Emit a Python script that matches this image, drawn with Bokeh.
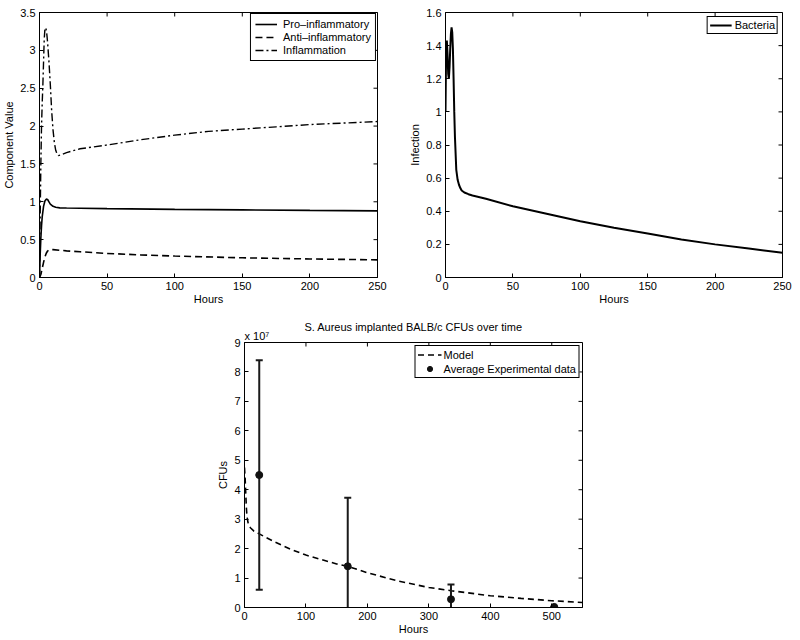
import math
from bokeh.plotting import figure
from bokeh.layouts import column, row
from bokeh.models import (FixedTicker, Range1d, Legend, LegendItem, Title,
                          Spacer, CustomJSTickFormatter)
from bokeh.embed import file_html
from bokeh.resources import INLINE

FONT = "Liberation Sans"

# ---------------- data ----------------
pro_t = [0, 0.5, 1, 1.5, 2, 3, 4, 5, 6, 7, 8, 10, 12, 15, 20, 30, 50, 100, 150, 200, 250]
pro_v = [0, 0.3, 0.52, 0.68, 0.8, 0.94, 1.01, 1.035, 1.03, 1.0, 0.97, 0.94, 0.927, 0.92,
         0.918, 0.915, 0.91, 0.90, 0.893, 0.886, 0.88]

anti_t = [0, 1, 2, 3, 4, 5, 6, 7, 8, 10, 15, 20, 30, 50, 75, 100, 150, 200, 250]
anti_v = [0, 0.04, 0.12, 0.2, 0.27, 0.32, 0.35, 0.365, 0.37, 0.368, 0.36, 0.352, 0.34,
          0.318, 0.298, 0.283, 0.26, 0.245, 0.233]

infl_t = [0, 0.5, 1, 1.5, 2, 2.5, 3, 3.5, 4, 4.5, 5, 5.5, 6, 7, 8, 9, 10, 11, 12, 13, 14,
          16, 20, 30, 50, 75, 100, 125, 150, 175, 200, 225, 250]
infl_v = [0, 0.8, 1.5, 2.0, 2.3, 2.55, 2.85, 3.15, 3.28, 3.3, 3.27, 3.2, 3.1, 2.85, 2.55,
          2.2, 1.95, 1.78, 1.68, 1.63, 1.61, 1.62, 1.65, 1.70, 1.75, 1.82, 1.88, 1.93,
          1.96, 1.99, 2.02, 2.04, 2.06]

bac_t = [0, 0.3, 0.6, 1, 1.5, 2, 2.5, 3, 3.5, 4, 4.5, 5, 5.5, 6, 6.5, 7, 8, 9, 10, 11, 12,
         14, 17, 20, 30, 50, 75, 100, 125, 150, 175, 200, 225, 250]
bac_v = [1.0, 1.25, 1.4, 1.43, 1.35, 1.23, 1.2, 1.27, 1.38, 1.47, 1.51, 1.48, 1.38, 1.2,
         1.0, 0.85, 0.65, 0.59, 0.56, 0.54, 0.525, 0.513, 0.503, 0.495, 0.475, 0.43,
         0.385, 0.34, 0.3, 0.265, 0.23, 0.2, 0.175, 0.15]

model_t = [0, 1, 2, 3, 4, 6, 8, 10, 15, 24, 50, 75, 100, 150, 168, 200, 250, 300, 336,
           400, 450, 500, 550]
model_cfu = [4.75e7, 4.4e7, 3.9e7, 3.4e7, 3.1e7, 2.85e7, 2.75e7, 2.7e7, 2.6e7, 2.5e7,
             2.22e7, 1.98e7, 1.78e7, 1.48e7, 1.4e7, 1.18e7, 0.9e7, 0.68e7, 0.57e7,
             0.40e7, 0.31e7, 0.23e7, 0.17e7]

exp_t = [24, 168, 336, 504]
exp_mean = [4.5e7, 1.4e7, 0.28e7, 0.02e7]
exp_sd = [3.9e7, 2.33e7, 0.5e7, 0.0]

hours_ticks = [0, 50, 100, 150, 200, 250]
comp_ticks = [0, 0.5, 1, 1.5, 2, 2.5, 3, 3.5]
inf_ticks = [0, 0.2, 0.4, 0.6, 0.8, 1, 1.2, 1.4, 1.6]
cfu_x_ticks = [0, 100, 200, 300, 400, 500]
cfu_y_ticks = [0, 1e7, 2e7, 3e7, 4e7, 5e7, 6e7, 7e7, 8e7, 9e7]

NUMFMT = CustomJSTickFormatter(code="return String(Number(tick.toFixed(3)));")


def style_axis(ax, ticks, fmt, label_standoff):
    ax.ticker = FixedTicker(ticks=ticks)
    ax.formatter = fmt
    ax.major_tick_in = 4
    ax.major_tick_out = 0
    ax.minor_tick_line_color = None
    ax.axis_line_color = "black"
    ax.major_tick_line_color = "black"
    ax.major_label_text_font = FONT
    ax.major_label_text_font_size = "11px"
    ax.major_label_text_color = "black"
    ax.axis_label_text_font = FONT
    ax.axis_label_text_font_size = "11px"
    ax.axis_label_text_font_style = "normal"
    ax.axis_label_text_color = "black"
    ax.axis_label_standoff = label_standoff
    ax.major_label_standoff = 4


def make_fig(xr, yr, xticks, yticks, xlabel, ylabel, yfmt, **kw):
    p = figure(x_range=Range1d(*xr), y_range=Range1d(*yr), output_backend="svg",
               toolbar_location=None, **kw)
    p.grid.visible = False
    p.outline_line_color = "black"
    p.outline_line_alpha = 1
    p.background_fill_color = "white"
    p.border_fill_color = "white"
    style_axis(p.xaxis[0], xticks, NUMFMT, 0)
    style_axis(p.yaxis[0], yticks, yfmt, 2)
    p.xaxis[0].axis_label = xlabel
    p.yaxis[0].axis_label = ylabel
    # inward ticks on the top and right edges of the box
    p.scatter(xticks, [yr[1]] * len(xticks), marker="dash", angle=math.pi / 2, size=8,
              line_color="black", line_width=1)
    p.scatter([xr[1]] * len(yticks), yticks, marker="dash", size=8,
              line_color="black", line_width=1)
    return p


def style_legend(lg, padding, standoff, glyph_w, label_h, spacing, margin):
    lg.location = "top_right"
    lg.label_text_font = FONT
    lg.label_text_font_size = "11px"
    lg.label_text_color = "black"
    lg.border_line_color = "black"
    lg.border_line_width = 1
    lg.border_line_alpha = 1
    lg.background_fill_color = "white"
    lg.background_fill_alpha = 1
    lg.padding = padding
    lg.label_standoff = standoff
    lg.glyph_width = glyph_w
    lg.glyph_height = label_h
    lg.label_height = label_h
    lg.spacing = spacing
    lg.margin = margin


# ---------------- top-left ----------------
p1 = make_fig((0, 250), (0, 3.5), hours_ticks, comp_ticks, "Hours", "Component Value",
              NUMFMT, frame_width=338, frame_height=265, min_border_left=39,
              min_border_right=23, min_border_top=12, min_border_bottom=33)
r_pro = p1.line(pro_t, pro_v, line_color="black", line_width=1.6)
r_anti = p1.line(anti_t, anti_v, line_color="black", line_width=1.6, line_dash="7 4")
r_infl = p1.line(infl_t, infl_v, line_color="black", line_width=1.4, line_dash="8 3 2 3")
lg1 = Legend(items=[LegendItem(label="Pro–inflammatory", renderers=[r_pro]),
                    LegendItem(label="Anti–inflammatory", renderers=[r_anti]),
                    LegendItem(label="Inflammation", renderers=[r_infl])])
style_legend(lg1, 4, 6, 22, 12, 1, 1)
p1.add_layout(lg1)

# ---------------- top-right ----------------
p2 = make_fig((0, 250), (0, 1.6), hours_ticks, inf_ticks, "Hours", "Infection",
              NUMFMT, frame_width=337, frame_height=265, min_border_left=45,
              min_border_right=18, min_border_top=12, min_border_bottom=33)
r_bac = p2.line(bac_t, bac_v, line_color="black", line_width=2)
lg2 = Legend(items=[LegendItem(label="Bacteria", renderers=[r_bac])])
style_legend(lg2, 2, 3, 22, 12, 0, 4)
p2.add_layout(lg2)

# ---------------- bottom ----------------
CFUFMT = CustomJSTickFormatter(code="return String(Math.round(tick / 1e7));")
p3 = make_fig((0, 550), (0, 9e7), cfu_x_ticks, cfu_y_ticks, "Hours", "CFUs", CFUFMT,
              frame_width=338, frame_height=265, min_border_left=44,
              min_border_right=18, min_border_top=32, min_border_bottom=33)

# exponent note, nearest the frame
exp_title = Title(text="x 10⁷", align="left", text_font=FONT, text_font_size="11px",
                  text_font_style="normal", text_color="black", standoff=2)
p3.add_layout(exp_title, "above")

p3.title.text = "S. Aureus implanted BALB/c CFUs over time"
p3.title.align = "center"
p3.title.text_font = FONT
p3.title.text_font_size = "11px"
p3.title.text_font_style = "normal"
p3.title.text_color = "black"
try:
    p3.title.standoff = -12
except Exception:
    p3.title.standoff = 0

r_model = p3.line(model_t, model_cfu, line_color="black", line_width=1.6, line_dash="6 4")
upper = [m + s for m, s in zip(exp_mean, exp_sd)]
lower = [m - s for m, s in zip(exp_mean, exp_sd)]
p3.segment(x0=exp_t, y0=lower, x1=exp_t, y1=upper, line_color="#1a1a1a", line_width=2)
p3.scatter(exp_t, upper, marker="dash", size=7, line_color="#1a1a1a", line_width=2)
p3.scatter(exp_t, lower, marker="dash", size=7, line_color="#1a1a1a", line_width=2)
r_exp = p3.scatter(exp_t, exp_mean, marker="circle", size=7, fill_color="#111111",
                   line_color="#111111")
lg3 = Legend(items=[LegendItem(label="Model", renderers=[r_model]),
                    LegendItem(label="Average Experimental data", renderers=[r_exp])])
style_legend(lg3, 2, 2, 24, 13, 1, 3)
p3.add_layout(lg3)

layout = column(row(p1, p2), row(Spacer(width=200, height=1), p3))

open("out.html", "w").write(file_html(layout, INLINE))
